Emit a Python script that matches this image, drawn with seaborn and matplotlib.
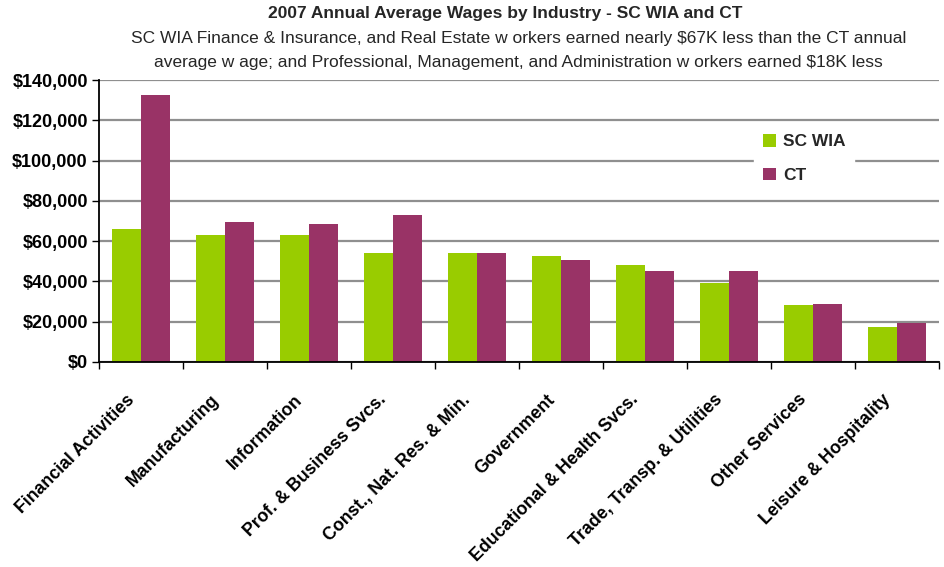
import pandas as pd
import matplotlib.pyplot as plt
import matplotlib.transforms as mtransforms
import seaborn as sns
from matplotlib.ticker import FuncFormatter, MultipleLocator

industries = ["Financial Activities", "Manufacturing", "Information", "Prof. & Business Svcs.",
              "Const., Nat. Res. & Min.", "Government", "Educational & Health Svcs.",
              "Trade, Transp. & Utilities", "Other Services", "Leisure & Hospitality"]
sc_wia = [66000, 63100, 63100, 54200, 54200, 52700, 48200, 39000, 28400, 17500]
ct = [132600, 69600, 68600, 73000, 54200, 50700, 45300, 45300, 28900, 19500]
series = ["SC WIA", "CT"]
colors = ["#99cc00", "#993366"]

df = pd.DataFrame({
    "industry": industries * 2,
    "wage": sc_wia + ct,
    "series": [series[0]] * len(industries) + [series[1]] * len(industries),
})

sns.set_style("white")
plt.rcParams['font.family'] = ['Liberation Sans', 'DejaVu Sans']

fig = plt.figure(figsize=(9.44, 5.67), dpi=100)
ax = fig.add_axes([99 / 944, 1 - 362 / 567, 840 / 944, 282 / 567])

sns.barplot(data=df, x="industry", y="wage", hue="series", palette=colors,
            width=0.7, saturation=1, ax=ax, linewidth=0)

ax.set_ylim(0, 140000)
ax.set_xlim(-0.5, len(industries) - 0.5)
ax.yaxis.set_major_locator(MultipleLocator(20000))
ax.yaxis.set_major_formatter(FuncFormatter(lambda v, p: f"${v:,.0f}"))
ax.grid(axis="y", color="#8f8f8f", linewidth=1.6)
ax.set_axisbelow(True)
for s in ["top", "right"]:
    ax.spines[s].set_visible(False)
ax.spines["left"].set_color("black")
ax.spines["bottom"].set_color("black")
ax.spines["left"].set_linewidth(1.3)
ax.spines["bottom"].set_linewidth(1.3)

ax.set_xlabel("")
ax.set_ylabel("")
ax.tick_params(axis="y", direction="out", length=5, width=1, color="black",
               labelsize=13, labelcolor="black", left=True, pad=3)
for lbl in ax.get_yticklabels():
    lbl.set_fontweight("bold")

ax.set_xticks(range(len(industries)))
ax.set_xticklabels(industries, rotation=45, ha="right", rotation_mode="anchor",
                   fontsize=12.8, fontweight="bold", color="black")
ax.tick_params(axis="x", which="major", length=0, pad=21)
shift = mtransforms.ScaledTranslation(-0.15, 0, fig.dpi_scale_trans)
for lbl in ax.get_xticklabels():
    lbl.set_transform(lbl.get_transform() + shift)
ax.set_xticks([i - 0.5 for i in range(len(industries) + 1)], minor=True)
ax.tick_params(axis="x", which="minor", direction="out", length=5, width=1,
               color="black", bottom=True)

leg = ax.legend(loc="upper left", bbox_to_anchor=(0.77, 0.87), frameon=True,
                framealpha=1, edgecolor="white", fontsize=12.5,
                handlelength=0.75, handleheight=0.75, handletextpad=0.4,
                labelspacing=1.05, borderpad=0.5)
for t in leg.get_texts():
    t.set_fontweight("bold")

fig.text(0.535, 0.976, "2007 Annual Average Wages by Industry - SC WIA and CT",
         ha="center", va="center", fontsize=12.5, fontweight="bold")
fig.text(0.549, 0.932, "SC WIA Finance & Insurance, and Real Estate w orkers earned nearly $67K less than the CT annual",
         ha="center", va="center", fontsize=12.5)
fig.text(0.549, 0.890, "average w age; and Professional, Management, and Administration w orkers earned $18K less",
         ha="center", va="center", fontsize=12.5)

fig.savefig("out.png", dpi=100)
